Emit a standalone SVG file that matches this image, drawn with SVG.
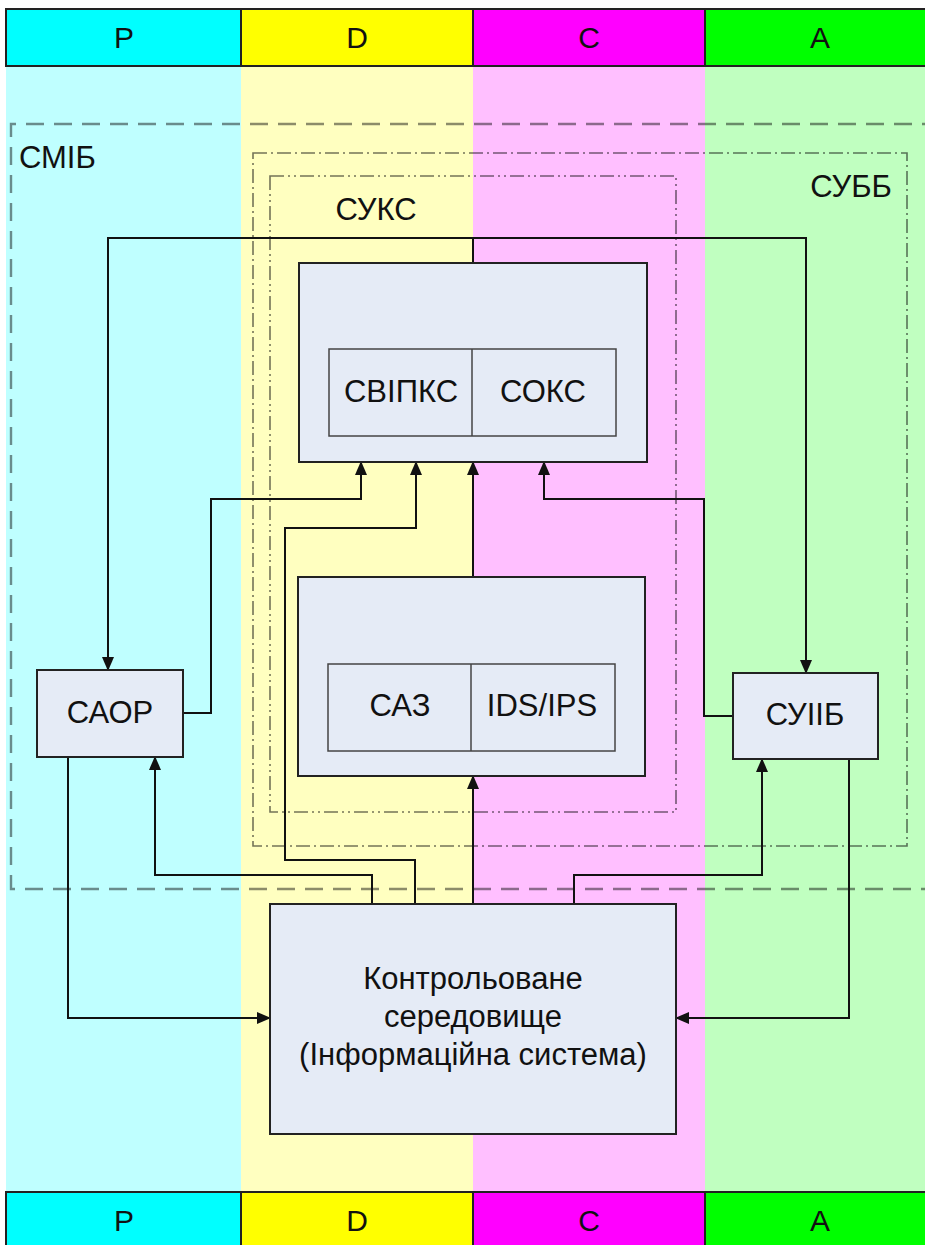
<svg xmlns="http://www.w3.org/2000/svg" width="925" height="1245" viewBox="0 0 925 1245">
<style>
.lbl{font-family:"Liberation Sans",Arial,sans-serif;font-size:31px;fill:#111;text-anchor:middle}
.hdr{font-family:"Liberation Sans",Arial,sans-serif;font-size:30px;fill:#111;text-anchor:middle}
.box{fill:#E5EBF6;stroke:#222;stroke-width:2}
.ibox{fill:none;stroke:#444;stroke-width:1.5}
.con{fill:none;stroke:#111;stroke-width:2}
.dash{fill:none;stroke:#000;stroke-opacity:0.45;stroke-width:2.4;stroke-dasharray:18 10}
.dd1{fill:none;stroke:#000;stroke-opacity:0.55;stroke-width:1.6;stroke-dasharray:14 4 2 4}
.dd2{fill:none;stroke:#000;stroke-opacity:0.55;stroke-width:1.6;stroke-dasharray:14 4 2 4 2 4}
.hcell{stroke:#222;stroke-width:2}
</style>
<defs>
<marker id="ah" viewBox="0 0 14 12" refX="13" refY="6" markerWidth="14" markerHeight="12" markerUnits="userSpaceOnUse" orient="auto">
<path d="M0,0 L14,6 L0,12 Z" fill="#111"/>
</marker>
</defs>
<rect x="0" y="0" width="925" height="1245" fill="#fff"/>
<g id="bands">
<rect x="6" y="66" width="235" height="1126" fill="#BFFFFF"/>
<rect x="241" y="66" width="232" height="1126" fill="#FFFFC0"/>
<rect x="473" y="66" width="232" height="1126" fill="#FFBFFF"/>
<rect x="705" y="66" width="222" height="1126" fill="#C0FFC0"/>
</g>
<g id="header-top">
<rect class="hcell" x="6" y="9" width="235" height="57" fill="#00FFFF"/>
<rect class="hcell" x="241" y="9" width="232" height="57" fill="#FFFF00"/>
<rect class="hcell" x="473" y="9" width="232" height="57" fill="#FF00FF"/>
<rect class="hcell" x="705" y="9" width="230" height="57" fill="#00FF00"/>
<text class="hdr" x="124" y="48">P</text>
<text class="hdr" x="357" y="48">D</text>
<text class="hdr" x="589" y="48">C</text>
<text class="hdr" x="820" y="48">A</text>
</g>
<g id="header-bottom">
<rect class="hcell" x="6" y="1192" width="235" height="60" fill="#00FFFF"/>
<rect class="hcell" x="241" y="1192" width="232" height="60" fill="#FFFF00"/>
<rect class="hcell" x="473" y="1192" width="232" height="60" fill="#FF00FF"/>
<rect class="hcell" x="705" y="1192" width="230" height="60" fill="#00FF00"/>
<text class="hdr" x="124" y="1231">P</text>
<text class="hdr" x="357" y="1231">D</text>
<text class="hdr" x="589" y="1231">C</text>
<text class="hdr" x="820" y="1231">A</text>
</g>
<g id="smib">
<path class="dash" d="M940,124 H11 V889 H940"/>
<text class="lbl" x="19" y="168" style="text-anchor:start">СМІБ</text>
</g>
<g id="subb">
<rect class="dd1" x="253" y="153" width="654" height="693"/>
<text class="lbl" x="851" y="197">СУББ</text>
</g>
<g id="suks">
<rect class="dd2" x="270" y="176" width="406" height="636"/>
<text class="lbl" x="376" y="220">СУКС</text>
</g>
<g id="connectors">
<path class="con" d="M473,263 V238"/>
<path class="con" d="M473,238 H108 V670" marker-end="url(#ah)"/>
<path class="con" d="M473,238 H806 V673" marker-end="url(#ah)"/>
<path class="con" d="M183,713 H211 V499 H361 V462" marker-end="url(#ah)"/>
<path class="con" d="M415,904 V860 H285 V528 H416 V462" marker-end="url(#ah)"/>
<path class="con" d="M473,577 V462" marker-end="url(#ah)"/>
<path class="con" d="M733,716 H704 V499 H544 V462" marker-end="url(#ah)"/>
<path class="con" d="M473,904 V776" marker-end="url(#ah)"/>
<path class="con" d="M372,904 V875 H155 V757" marker-end="url(#ah)"/>
<path class="con" d="M574,904 V875 H762 V759" marker-end="url(#ah)"/>
<path class="con" d="M68,757 V1018 H270" marker-end="url(#ah)"/>
<path class="con" d="M849,759 V1018 H676" marker-end="url(#ah)"/>
</g>
<g id="suks-box">
<rect class="box" x="299" y="263" width="348" height="199"/>
<rect class="ibox" x="329" y="349" width="287" height="87"/>
<line class="ibox" x1="472" y1="349" x2="472" y2="436"/>
<text class="lbl" x="401" y="402">СВІПКС</text>
<text class="lbl" x="543" y="402">СОКС</text>
</g>
<g id="saz-box">
<rect class="box" x="298" y="577" width="347" height="199"/>
<rect class="ibox" x="328" y="664" width="287" height="87"/>
<line class="ibox" x1="471" y1="664" x2="471" y2="751"/>
<text class="lbl" x="400" y="716">САЗ</text>
<text class="lbl" x="542" y="716">IDS/IPS</text>
</g>
<g id="saor">
<rect class="box" x="37" y="670" width="146" height="87"/>
<text class="lbl" x="110" y="723">САОР</text>
</g>
<g id="suiib">
<rect class="box" x="733" y="673" width="145" height="86"/>
<text class="lbl" x="805" y="725">СУІІБ</text>
</g>
<g id="env">
<rect class="box" x="270" y="904" width="406" height="230"/>
<text class="lbl" x="473" y="989">Контрольоване</text>
<text class="lbl" x="473" y="1027">середовище</text>
<text class="lbl" x="473" y="1065">(Інформаційна система)</text>
</g>
</svg>
